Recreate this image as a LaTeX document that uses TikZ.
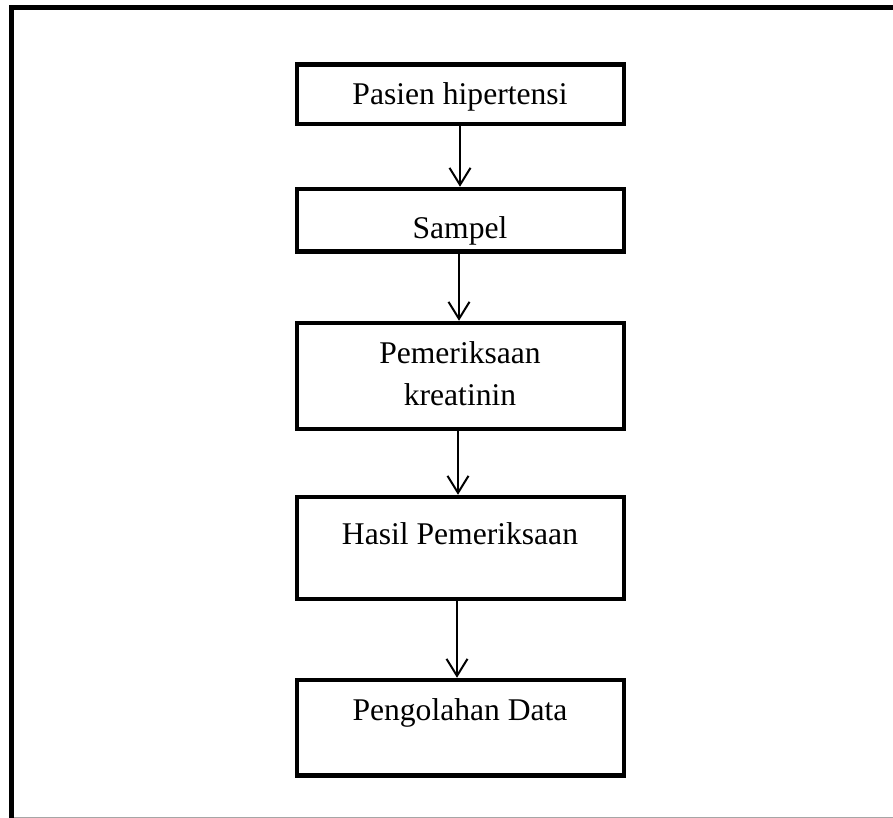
\documentclass[tikz,border=0pt]{standalone}
\usepackage{fontspec}
\setmainfont{Liberation Serif}
\usetikzlibrary{arrows.meta}
\begin{document}
\begin{tikzpicture}[x=1pt,y=-1pt,
  box/.style={draw=black,line width=4.5pt,minimum width=327pt,inner sep=0pt,fill=none},
  txt/.style={inner sep=0pt,anchor=base,font=\fontsize{31.6}{42}\selectfont,align=center},
  arr/.style={line width=2pt,-{Straight Barb[length=17pt,width=21pt,line width=2pt]}}]
\useasboundingbox (0,0) rectangle (893,818);
% frame
\draw[line width=5pt,line cap=butt] (11.5,818) -- (11.5,8) -- (893,8);
\draw[line width=1pt,black!35] (14,817.5) -- (893,817.5);
% boxes
\node[box,minimum height=59.5pt] (b1) at (460.5,94.25) {};
\node[box,minimum height=62.5pt] (b2) at (460.5,220.25) {};
\node[box,minimum height=106pt] (b3) at (460.5,376) {};
\node[box,minimum height=102pt] (b4) at (460.5,548) {};
\node[box,minimum height=95.5pt] (b5) at (460.5,727.75) {};
% texts
\node[txt] (t1) at (460,105) {Pasien hipertensi};
\node[txt] (t2) at (460,238.3) {Sampel};
\node[txt] (t3) at (460,405) {Pemeriksaan\\kreatinin};
\node[txt] (t4) at (460,544) {Hasil Pemeriksaan};
\node[txt] (t5) at (460,720.7) {Pengolahan Data};
% arrows
\draw[arr] ([xshift=-0.5pt]b1.south) -- ([xshift=-0.5pt]b2.north);
\draw[arr] ([xshift=-1.5pt]b2.south) -- ([xshift=-1.5pt]b3.north);
\draw[arr] ([xshift=-2.5pt]b3.south) -- ([xshift=-2.5pt]b4.north);
\draw[arr] ([xshift=-3.5pt]b4.south) -- ([xshift=-3.5pt]b5.north);
\end{tikzpicture}
\end{document}
